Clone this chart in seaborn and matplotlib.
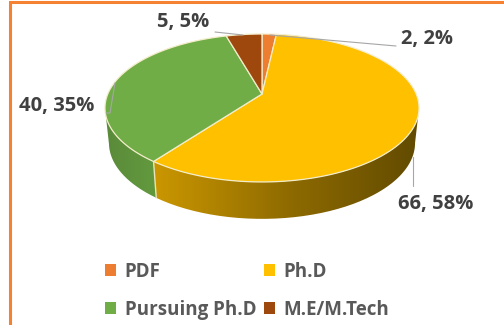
import numpy as np
import matplotlib
matplotlib.use("Agg")
import matplotlib.pyplot as plt
from matplotlib.colors import LinearSegmentedColormap
from matplotlib.patches import Patch, PathPatch
from matplotlib.path import Path
import seaborn as sns

categories = ["PDF", "Ph.D", "Pursuing Ph.D", "M.E/M.Tech"]
values = [2, 66, 40, 5]
percents = [2, 58, 35, 5]
colors = ["#ED7D31", "#FFC000", "#70AD47", "#9E480E"]

sns.set_theme(style="white", palette=sns.color_palette(colors))
plt.rcParams["font.family"] = ["Open Sans", "DejaVu Sans"]

fig = plt.figure(figsize=(5.04, 3.25), dpi=100)
ax = fig.add_axes([0, 0, 1, 1])
ax.set_xlim(0, 504)
ax.set_ylim(325, 0)
ax.axis("off")

K = 0.189
CX = 262


def project(theta_deg, sx, ya, yb):
    t = np.radians(theta_deg)
    u, v = np.sin(t), np.cos(t)
    d = 1 + K * v
    return CX + sx * u / d, (ya * v + yb) / d


def top(t):
    return project(t, 154.2, -53.57, 94.0)


def bottom(t):
    return project(t, 150.3, -48.9, 128.6)


share = np.array(values, dtype=float) / sum(values)
edges = np.concatenate([[0], np.cumsum(share) * 360])
SIL_R = np.degrees(np.arccos(-K))
SIL_L = 360 - SIL_R

# side walls
side_cmaps = {
    1: ["#CB9700", "#8F6B00", "#614A00"],
    2: ["#5A8A3A", "#639A3E"],
}
for i in (1, 2):
    a = max(edges[i], SIL_R)
    b = min(edges[i + 1], SIL_L)
    t = np.linspace(a, b, 120)
    xt, yt = top(t)
    xb, yb = bottom(t)
    px = np.concatenate([xt, xb[::-1]])
    py = np.concatenate([yt, yb[::-1]])
    patch = PathPatch(Path(np.column_stack([px, py])), fc="none", ec="none")
    ax.add_patch(patch)
    cm = LinearSegmentedColormap.from_list("s", side_cmaps[i])
    g = np.linspace(0, 1, 256).reshape(1, -1)
    im = ax.imshow(g, cmap=cm, aspect="auto",
                   extent=[px.min(), px.max(), py.max(), py.min()], zorder=1)
    im.set_clip_path(patch)
ax.set_xlim(0, 504)
ax.set_ylim(325, 0)

# seam between yellow and green walls
st, sb = top(edges[2]), bottom(edges[2])
ax.plot([st[0], sb[0]], [st[1], sb[1]], color="#E8E3B8", lw=1.0, zorder=2)

# top wedges
apex = (CX, 94.0)
for i, c in enumerate(colors):
    t = np.linspace(edges[i], edges[i + 1], 200)
    x, y = top(t)
    ax.fill(np.r_[apex[0], x], np.r_[apex[1], y], fc=c,
            ec="#F3EDCB", lw=0.9, zorder=3, joinstyle="round")

# leader lines
leader = "#A6A6A6"
leaders = [
    ([215, 243], [32, 35]),
    ([270, 396], [35, 46]),
    ([115, 110, 106], [83, 113, 113]),
    ([413, 413], [157, 186]),
]
for lx, ly in leaders:
    ax.plot(lx, ly, color=leader, lw=0.8, zorder=4)

# data labels
label_pos = [(427, 39), (436, 204), (57, 106), (183, 22)]
for v, p, (lx, ly) in zip(values, percents, label_pos):
    ax.text(lx, ly, f"{v}, {p}%", ha="center", va="center", fontsize=14.5,
            fontweight="bold", color="#404040", zorder=5)

# legend
handles = [Patch(facecolor=c, edgecolor="none") for c in colors]
order = [0, 2, 1, 3]
leg = ax.legend([handles[i] for i in order], [categories[i] for i in order],
                ncol=2, loc="upper left", bbox_to_anchor=(105 / 504, 1 - 262 / 325),
                frameon=False, fontsize=13.5, handlelength=0.6, handleheight=0.6,
                handletextpad=0.45, columnspacing=0.4, labelspacing=0.95,
                borderpad=0, borderaxespad=0)
for txt in leg.get_texts():
    txt.set_color("#595959")
    txt.set_fontweight("bold")

# frame of the picture
frame = "#F58233"
ax.plot([10, 10, 504], [325, 2, 2], color=frame, lw=2.2, zorder=6,
        solid_joinstyle="miter", clip_on=False)

fig.savefig("out.png", dpi=100, facecolor="white")
